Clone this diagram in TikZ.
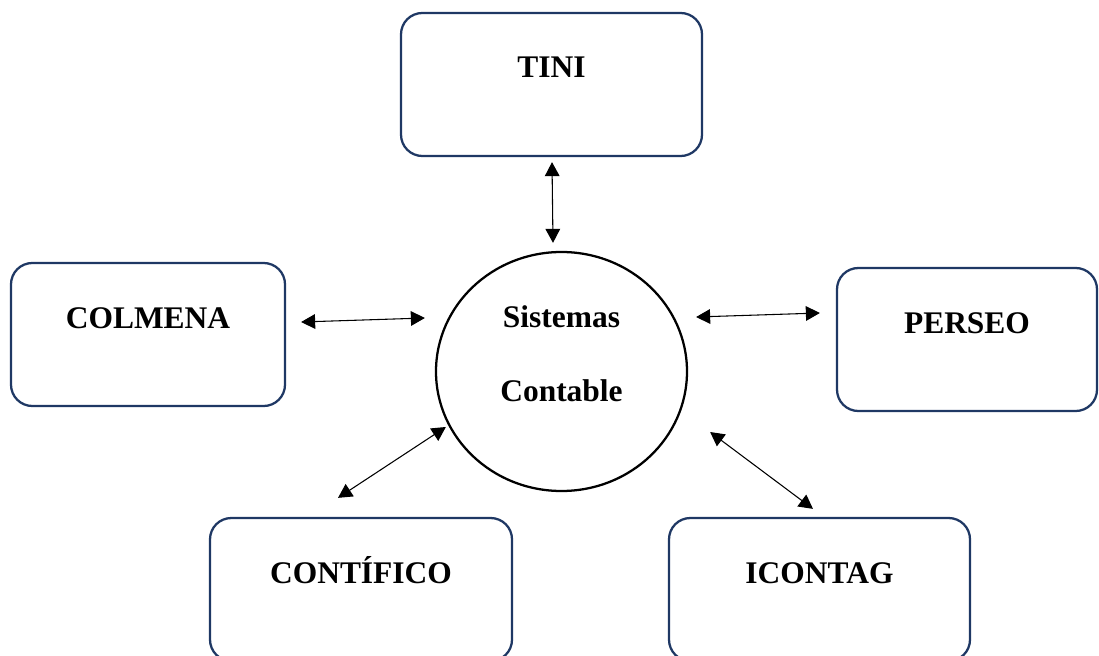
\documentclass[tikz,border=0pt]{standalone}
\usepackage{fontspec}
\setmainfont{Liberation Serif}
\usetikzlibrary{shapes.geometric,arrows.meta}
\definecolor{boxnavy}{RGB}{31,56,100}

\begin{document}
\begin{tikzpicture}[x = 0.75pt, y = -0.75pt,
  sysbox/.style = {draw = boxnavy, line width = 1.7pt, rounded corners = 16pt, inner ysep = 0pt,
    text height = 48.75pt, text depth = 58.5pt, font = \bfseries\fontsize{23.6}{28}\selectfont},
  hub/.style = {draw, ellipse, line width = 1.7pt, minimum width = 188.25pt, minimum height = 179.25pt, inner sep = 0pt},
  hubtext/.style = {anchor = base, inner sep = 0pt, font = \bfseries\fontsize{23.6}{28}\selectfont},
  link/.style = {<->, >={Triangle[length = 10.5pt, width = 11pt]}, line width = 0.8pt}]
\useasboundingbox (0,0) rectangle (1099,656);
\clip (0,0) rectangle (1099,656); % lower boxes run off the page
\node [hub] (sc) at (561.5,371.5) {};
\node [hubtext] (sc1) at (561.5,327) {Sistemas};
\node [hubtext] (sc2) at (561.5,401) {Contable};
\node [sysbox, minimum width = 225.75pt] (tini) at (551.5,84.5) {TINI};
\node [sysbox, minimum width = 205.5pt] (colmena) at (148,334.5) {COLMENA};
\node [sysbox, minimum width = 195pt] (perseo) at (967,339.5) {PERSEO};
\node [sysbox, minimum width = 226.5pt] (contifico) at (361,589.5) {CONTÍFICO};
\node [sysbox, minimum width = 225.75pt] (icontag) at (819.5,589.5) {ICONTAG};
\draw [link] ([shift = {(0.5,5)}]tini.south) -- ([shift = {(-8.5,-8)}]sc.north);
\draw [link] ([shift = {(15,-12.5)}]colmena.east) -- ([shift = {(-10,-53.5)}]sc.west);
\draw [link] ([shift = {(8,-54.5)}]sc.east) -- ([shift = {(-16,-26.5)}]perseo.west);
\draw [link] ([shift = {(-23,-19)}]contifico.north) -- ([shift = {(11,55.5)}]sc.west);
\draw [link] ([shift = {(22,60.5)}]sc.east) -- ([shift = {(-6.5,-8)}]icontag.north);
\end{tikzpicture}
\end{document}
